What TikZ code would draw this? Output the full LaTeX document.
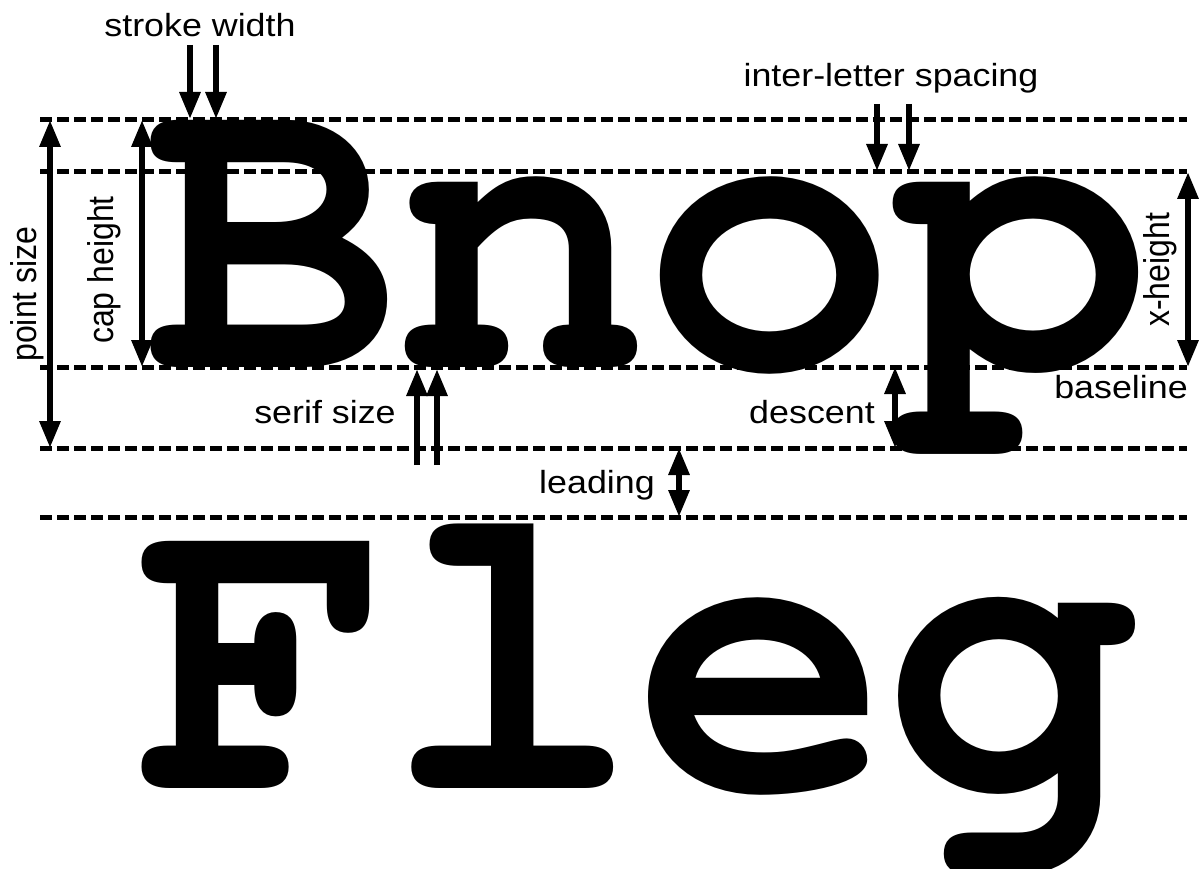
\documentclass[tikz,border=0pt]{standalone}
\usepackage{fontspec}
\setmainfont{Liberation Sans}
\newfontfamily\bigmono{texgyrecursor-bold.otf}
\usetikzlibrary{arrows.meta}
\begin{document}
\begin{tikzpicture}[x=1pt,y=-1pt,
  hd/.tip={Triangle[width=20pt,length=27pt]},
  guide/.style={line width=5pt, dash pattern=on 12pt off 5pt},
  arr/.style={line width=6pt,-hd},
  darr/.style={line width=6pt,hd-hd},
  lbl/.style={font=\fontsize{32}{32}\selectfont, inner sep=0pt, xscale=1.12},
  big/.style={font=\bigmono\fontsize{424}{424}\selectfont, inner sep=0pt, anchor=base}]
\useasboundingbox (0,0) rectangle (1204,869);
% guide lines
\foreach \n/\y in {top/120, xh/172, base/367, desc/448, lead/517}{
  \coordinate (\n L) at (40,\y);
  \coordinate (\n R) at (1187,\y);
  \draw[guide] (\n L) -- (\n R);
}
% big letters, first line
\node[big] (B) at (273,367) {B};
\node[big] (n) at (523,367) {n};
\node[big] (o) at (770,367) {o};
\node[big] (p) at (1024,367) {p};
% big letters, second line
\node[big] (F) at (264,788) {F};
\node[big] (l) at (513,788) {l};
\node[big] (e) at (762,788) {e};
\node[big] (g) at (1012,788) {g};
% labels
\node[lbl, anchor=base] (sw) at (200,37) {stroke width};
\node[lbl, anchor=base] (ils) at (891,87) {inter-letter spacing};
\node[lbl, rotate=90] (ps) at (27,294) {point size};
\node[lbl, rotate=90] (ch) at (104,270) {cap height};
\node[lbl, rotate=90] (xhl) at (1160,270) {x-height};
\node[lbl, anchor=base] (ss) at (325,423) {serif size};
\node[lbl, anchor=base] (ld) at (597,493) {leading};
\node[lbl, anchor=base] (ds) at (812,423) {descent};
\node[lbl, anchor=base] (bl) at (1121,398) {baseline};
% arrow endpoints
\coordinate (sw1a) at (190,45);  \coordinate (sw1b) at (190,119);
\coordinate (sw2a) at (216,45);  \coordinate (sw2b) at (216,119);
\coordinate (il1a) at (877,104); \coordinate (il1b) at (877,171);
\coordinate (il2a) at (909,104); \coordinate (il2b) at (909,171);
\coordinate (ps1) at (50,120);   \coordinate (ps2) at (50,448);
\coordinate (ch1) at (142,120);  \coordinate (ch2) at (142,367);
\coordinate (xh1) at (1188,172); \coordinate (xh2) at (1188,367);
\coordinate (ss1a) at (417,465); \coordinate (ss1b) at (417,369);
\coordinate (ss2a) at (437,465); \coordinate (ss2b) at (437,369);
\coordinate (ds1) at (895,367);  \coordinate (ds2) at (895,448);
\coordinate (ld1) at (679,448);  \coordinate (ld2) at (679,517);
% arrows
\draw[arr] (sw1a) -- (sw1b);
\draw[arr] (sw2a) -- (sw2b);
\draw[arr] (il1a) -- (il1b);
\draw[arr] (il2a) -- (il2b);
\draw[arr] (ss1a) -- (ss1b);
\draw[arr] (ss2a) -- (ss2b);
\draw[darr] (ps1) -- (ps2);
\draw[darr] (ch1) -- (ch2);
\draw[darr] (xh1) -- (xh2);
\draw[darr] (ds1) -- (ds2);
\draw[darr] (ld1) -- (ld2);
\end{tikzpicture}
\end{document}
